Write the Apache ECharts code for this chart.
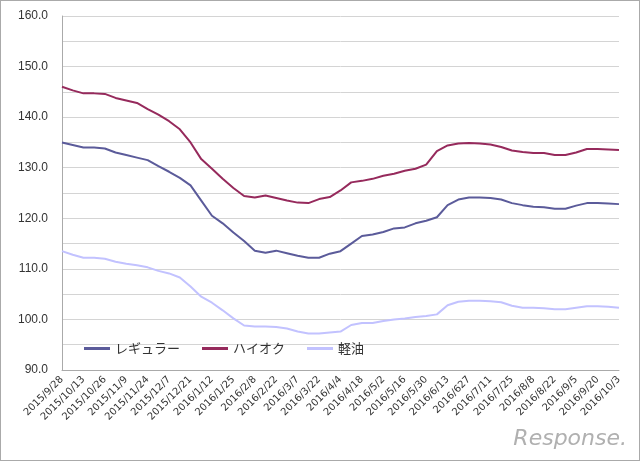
<!DOCTYPE html><html><head><meta charset="utf-8"><script src="https://cdn.jsdelivr.net/npm/echarts@6/dist/echarts.min.js"></script>
<style>html,body{margin:0;padding:0;background:#fff}#c{width:638px;height:459px;border:1px solid #aaa}</style></head><body><div id="c"></div><script>
const tickLabels=['2015/9/28','2015/10/13','2015/10/26','2015/11/9','2015/11/24','2015/12/7','2015/12/21','2016/1/12','2016/1/25','2016/2/8','2016/2/22','2016/3/7','2016/3/22','2016/4/4','2016/4/18','2016/5/2','2016/5/16','2016/5/30','2016/6/13','2016/627','2016/7/11','2016/7/25','2016/8/8','2016/8/22','2016/9/5','2016/9/20','2016/10/3'];
const categories=[];tickLabels.forEach((t,i)=>{categories.push(t);if(i<tickLabels.length-1)categories.push(' '+i);});
const regular=[135,134.5,134,134,133.8,133,132.5,132,131.5,130.3,129.2,128,126.5,123.5,120.5,119,117.2,115.5,113.6,113.2,113.6,113.1,112.6,112.2,112.2,113,113.5,115,116.5,116.8,117.3,118,118.2,119,119.5,120.2,122.6,123.7,124.1,124.1,124,123.7,123,122.6,122.3,122.2,121.9,121.9,122.5,123,123,122.9,122.8];
const highoctane=[146,145.3,144.7,144.7,144.6,143.8,143.3,142.8,141.6,140.5,139.2,137.6,135,131.7,129.8,127.8,126,124.4,124.1,124.5,124,123.5,123.1,123,123.8,124.2,125.5,127.1,127.4,127.8,128.4,128.8,129.4,129.8,130.6,133.3,134.4,134.8,134.9,134.8,134.6,134.1,133.4,133.1,132.9,132.9,132.5,132.5,133,133.7,133.7,133.6,133.5];
const diesel=[113.5,112.8,112.2,112.2,112,111.4,111,110.7,110.3,109.6,109.1,108.3,106.5,104.5,103.3,101.8,100.2,98.8,98.6,98.6,98.5,98.2,97.6,97.2,97.2,97.4,97.6,98.9,99.3,99.3,99.7,100,100.2,100.5,100.7,101,102.8,103.5,103.7,103.7,103.6,103.4,102.7,102.3,102.3,102.2,102,102,102.3,102.6,102.6,102.5,102.3];
const names=['レギュラー','ハイオク','軽油'];
const colors=['#5b5b9a','#962a5c','#c2c2ff'];
const c=echarts.init(document.getElementById('c'));
c.setOption({
 animation:false,
 grid:{left:61,right:20,top:15,bottom:90},
 legend:{left:78,top:336,itemWidth:26,itemHeight:3,itemGap:22,icon:'rect',textStyle:{fontSize:13,color:'#333',fontFamily:'Noto Sans CJK JP'},data:names},
 xAxis:{type:'category',data:categories,boundaryGap:false,axisLine:{lineStyle:{color:'#aaa'}},axisTick:{show:false},
  axisLabel:{interval:1,rotate:45,fontSize:10,color:'#333',margin:8,fontFamily:'DejaVu Sans'}},
 yAxis:{type:'value',min:90,max:160,interval:5,axisLine:{show:true,lineStyle:{color:'#aaa'}},
  splitLine:{lineStyle:{color:'#d4d4d4'}},
  axisLabel:{fontSize:12,color:'#333',margin:14,formatter:v=>v%10===0?v.toFixed(1):''}},
 graphic:[{type:'text',right:12,bottom:10,style:{text:'Response.',fill:'#b0b0b0',font:'italic 22px DejaVu Sans'}}],
 series:[regular,highoctane,diesel].map((d,i)=>({name:names[i],type:'line',data:d,symbol:'none',lineStyle:{width:2,color:colors[i]},itemStyle:{color:colors[i]}}))
});
</script></body></html>
